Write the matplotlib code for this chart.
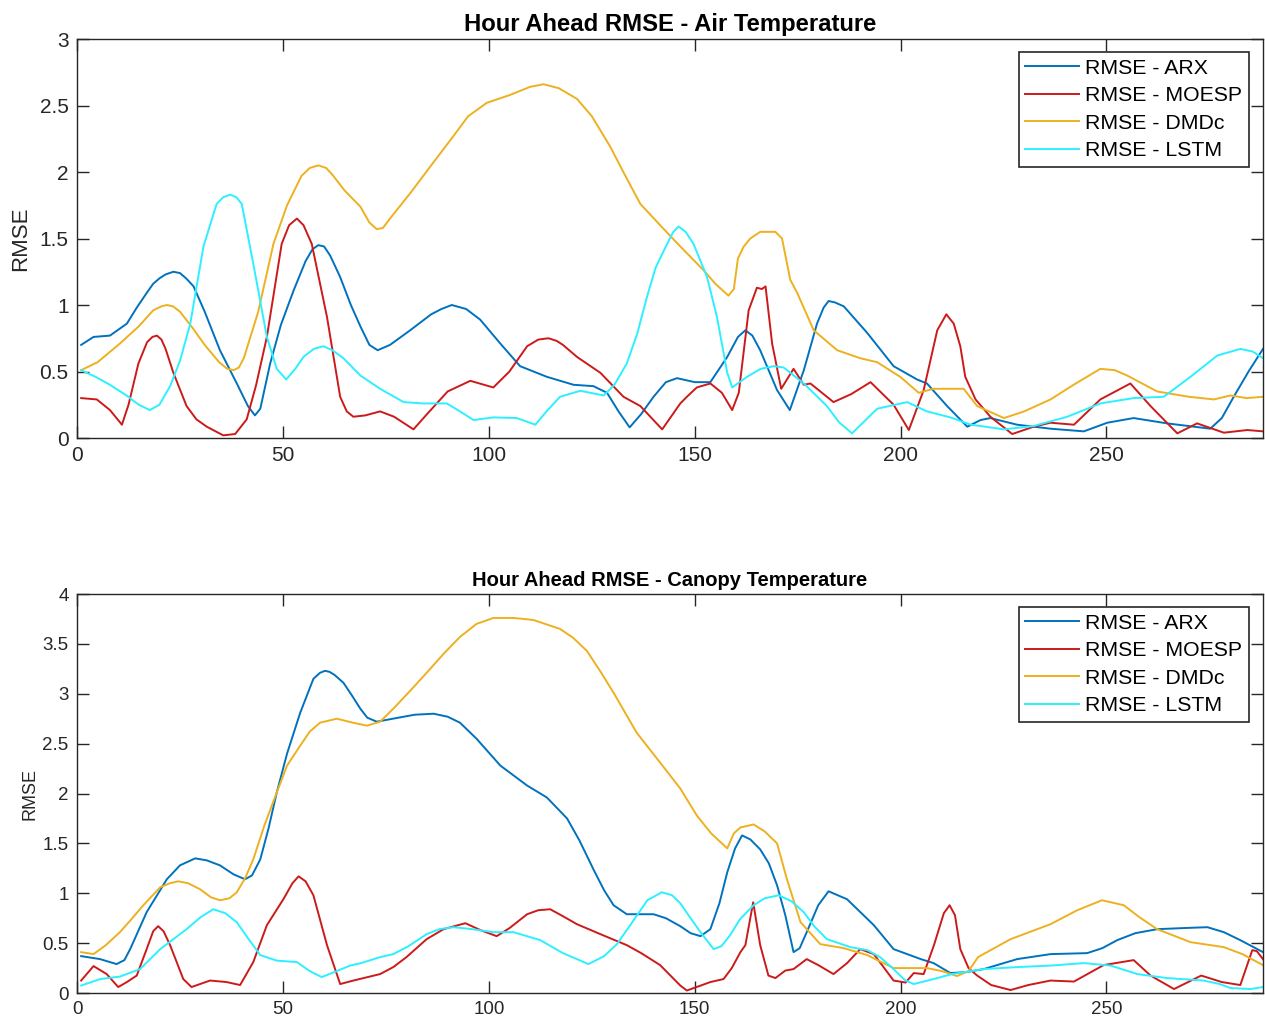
import matplotlib.pyplot as plt

plt.rcParams['font.family'] = ['Liberation Sans', 'DejaVu Sans']

labels = ["RMSE - ARX", "RMSE - MOESP", "RMSE - DMDc", "RMSE - LSTM"]
colors = ["#0072BD", "#CC1A1A", "#EDB120", "#2CF0FF"]

# ---- air temperature ----
air_arx_x = [1, 4, 8, 12.1, 14.5, 16.9, 18.5, 20, 21.5, 23.4, 25, 26.5, 28.3, 31, 34.7, 38.8, 41.5, 43.2, 44.5, 46.9,
             49.5, 52.6, 55.5, 57.2, 58.6, 60, 61.5, 63.9, 66.5, 68.8, 71, 73, 76, 80.9, 86, 88.5, 91, 94.5, 97.9,
             102.8, 107.6, 114.1, 120.6, 125.4, 128.7, 131.5, 134.2, 137, 140, 143, 145.7, 150, 153.8, 157.9, 160.5,
             162.3, 164, 165.9, 170, 173.1, 176.5, 179.7, 181.3, 182.5, 184, 186.2, 191.9, 198.3, 204, 206.4, 211.3,
             216.2, 219.4, 221.8, 228.3, 236.4, 244.5, 250.2, 256.6, 264.7, 275.2, 278, 280.9, 284.5, 288]
air_arx_y = [0.70, 0.76, 0.77, 0.86, 0.98, 1.09, 1.16, 1.20, 1.23, 1.25, 1.24, 1.20, 1.14, 0.95, 0.66, 0.41, 0.24,
             0.17, 0.22, 0.56, 0.85, 1.11, 1.33, 1.42, 1.45, 1.44, 1.37, 1.21, 1.00, 0.84, 0.70, 0.66, 0.70, 0.81, 0.93,
             0.97, 1.00, 0.97, 0.89, 0.71, 0.54, 0.46, 0.40, 0.39, 0.34, 0.20, 0.08, 0.18, 0.31, 0.42, 0.45, 0.42, 0.42,
             0.61, 0.76, 0.81, 0.77, 0.66, 0.36, 0.21, 0.51, 0.86, 0.98, 1.03, 1.02, 0.99, 0.79, 0.54, 0.44, 0.41, 0.24,
             0.085, 0.135, 0.15, 0.10, 0.07, 0.05, 0.115, 0.15, 0.11, 0.07, 0.15, 0.31, 0.50, 0.67]

air_moesp_x = [1, 4.8, 8, 10.9, 12.5, 14.9, 17, 18.3, 19.4, 20.5, 21.5, 23.4, 26.6, 29, 31.5, 35.5, 38.4, 41.2, 43.5,
               46.1, 49.7, 51.5, 53.4, 55, 57, 60.7, 63.9, 65.5, 67.1, 70, 73.6, 77, 81.7, 85, 90, 95.5, 101.1, 105,
               109.3, 112, 114.5, 116.5, 118, 121.4, 127.1, 132.7, 136.8, 142.1, 146.5, 148.1, 150.5, 153.8, 156.6,
               159.1, 160.7, 163.1, 165.1, 166.3, 167.2, 168.8, 171, 174, 176.5, 178.1, 183.7, 188, 192.7, 198.3,
               202, 205.6, 208.9, 211.1, 212.9, 214.5, 215.7, 218.2, 221.8, 227.1, 232.3, 236.4, 242.1, 248.5, 255.8,
               260.7, 267.2, 272, 278.5, 284.2, 288]
air_moesp_y = [0.30, 0.29, 0.21, 0.10, 0.25, 0.56, 0.72, 0.76, 0.77, 0.74, 0.67, 0.49, 0.24, 0.14, 0.085, 0.02, 0.03,
               0.14, 0.40, 0.76, 1.46, 1.60, 1.65, 1.60, 1.46, 0.91, 0.31, 0.20, 0.16, 0.17, 0.20, 0.16, 0.065, 0.18,
               0.35, 0.43, 0.38, 0.50, 0.69, 0.74, 0.75, 0.73, 0.70, 0.61, 0.49, 0.31, 0.24, 0.065, 0.26, 0.31, 0.38,
               0.41, 0.34, 0.21, 0.34, 0.96, 1.13, 1.12, 1.14, 0.71, 0.37, 0.52, 0.40, 0.41, 0.27, 0.33, 0.42, 0.25,
               0.06, 0.36, 0.81, 0.93, 0.86, 0.69, 0.46, 0.29, 0.16, 0.03, 0.085, 0.115, 0.10, 0.29, 0.41, 0.24, 0.035,
               0.11, 0.04, 0.06, 0.05]

air_dmdc_x = [1, 5, 10.4, 15, 18.5, 20.5, 21.8, 23.3, 25, 28, 31, 34.5, 36.5, 38, 39.3, 40.5, 44, 47.7, 51, 54.5,
              56.5, 58.6, 60.5, 62, 65, 68.8, 71, 72.8, 74.3, 76, 80.9, 86, 91.4, 95, 99.5, 105.2, 110, 113.3, 117,
              121.4, 125, 129.5, 133, 136.8, 141.6, 146.5, 152.2, 155, 158.2, 159.5, 160.5, 161.9, 163.5, 165.9,
              169.6, 171.2, 173.2, 174.9, 178.9, 184.6, 190.2, 194.3, 199.9, 204.4, 208, 215.3, 218.6, 225.1, 230,
              236.4, 242, 248.5, 252, 255, 262.3, 270, 276.1, 280.1, 284, 288]
air_dmdc_y = [0.51, 0.57, 0.71, 0.84, 0.96, 0.99, 1.00, 0.99, 0.95, 0.83, 0.70, 0.57, 0.52, 0.51, 0.53, 0.60, 0.95,
              1.46, 1.75, 1.97, 2.03, 2.05, 2.03, 1.98, 1.86, 1.74, 1.62, 1.57, 1.58, 1.65, 1.84, 2.05, 2.27, 2.42, 2.52,
              2.58, 2.64, 2.66, 2.63, 2.55, 2.42, 2.19, 1.98, 1.76, 1.60, 1.44, 1.26, 1.16, 1.07, 1.12, 1.35, 1.44, 1.50,
              1.55, 1.55, 1.50, 1.19, 1.09, 0.81, 0.66, 0.60, 0.57, 0.46, 0.34, 0.37, 0.37, 0.24, 0.15, 0.20, 0.29, 0.40,
              0.52, 0.51, 0.47, 0.35, 0.31, 0.29, 0.32, 0.30, 0.31]

air_lstm_x = [1, 4.5, 8, 12, 15, 17.7, 20, 22.6, 25, 27.5, 30.7, 33.9, 35.5, 37.2, 38.7, 40, 42.8, 46.1, 48.5, 50.8,
              53, 55, 57.5, 59.8, 62, 64.7, 68.8, 73.6, 79.3, 84, 89.8, 93, 96.3, 101.1, 106.8, 111.3, 114, 117.3,
              122.2, 127.9, 130.5, 133.5, 136, 138.4, 140.5, 143.3, 144.8, 146.1, 147.8, 149.7, 153, 155.4, 157.9,
              159.1, 162.7, 166, 169.2, 171.6, 176.5, 182.1, 185, 188.2, 191, 194.3, 201.6, 206.4, 212.1, 217, 219.4,
              225.1, 232.3, 240.5, 248.5, 256.6, 263.9, 270.4, 276.9, 282.5, 285.5, 288]
air_lstm_y = [0.51, 0.46, 0.40, 0.32, 0.25, 0.21, 0.25, 0.39, 0.58, 0.86, 1.44, 1.76, 1.81, 1.83, 1.81, 1.76, 1.31,
              0.76, 0.52, 0.44, 0.52, 0.61, 0.67, 0.69, 0.66, 0.60, 0.47, 0.37, 0.27, 0.26, 0.26, 0.20, 0.135, 0.155,
              0.15, 0.10, 0.20, 0.31, 0.355, 0.32, 0.40, 0.56, 0.78, 1.06, 1.28, 1.46, 1.55, 1.59, 1.55, 1.46, 1.21,
              0.91, 0.49, 0.38, 0.46, 0.52, 0.54, 0.53, 0.41, 0.24, 0.12, 0.035, 0.12, 0.22, 0.27, 0.20, 0.155, 0.10,
              0.09, 0.065, 0.09, 0.16, 0.26, 0.30, 0.31, 0.46, 0.62, 0.67, 0.65, 0.60]

# ---- canopy temperature ----
can_arx_x = [1, 5.6, 9.6, 11.5, 12.9, 16.9, 21.8, 25, 28.7, 31.5, 34.7, 38, 40.8, 42.5, 44.5, 46.5, 48.5, 51, 54.2,
             57.4, 59, 60.2, 61.3, 62.5, 64.7, 66.8, 68.8, 70.5, 72.8, 78, 82, 86.6, 90, 93, 97, 102.8, 109.3, 114.1,
             119, 122, 125.4, 128, 130.3, 133.5, 137, 140, 143, 146.5, 149, 151.4, 153.8, 156, 157.9, 159.8, 161.5,
             163.5, 165.9, 168, 170, 172, 174, 175.5, 177.2, 180, 182.5, 187, 193.5, 198.3, 204.9, 208, 212.1, 216,
             220.2, 228.3, 236.4, 245.3, 249, 252.6, 257, 262.3, 268, 274.5, 278.5, 282.5, 288]
can_arx_y = [0.37, 0.34, 0.29, 0.33, 0.44, 0.81, 1.14, 1.28, 1.35, 1.33, 1.28, 1.19, 1.14, 1.18, 1.34, 1.65, 2.01, 2.40,
             2.81, 3.15, 3.21, 3.23, 3.22, 3.19, 3.11, 2.98, 2.85, 2.76, 2.72, 2.76, 2.79, 2.80, 2.77, 2.71, 2.55, 2.28,
             2.08, 1.96, 1.75, 1.53, 1.24, 1.03, 0.88, 0.79, 0.79, 0.79, 0.75, 0.67, 0.60, 0.57, 0.64, 0.90, 1.21, 1.45,
             1.58, 1.54, 1.44, 1.30, 1.08, 0.78, 0.41, 0.45, 0.61, 0.88, 1.02, 0.94, 0.68, 0.44, 0.34, 0.30, 0.20, 0.21,
             0.24, 0.34, 0.39, 0.40, 0.45, 0.53, 0.60, 0.64, 0.65, 0.66, 0.61, 0.53, 0.41]

can_moesp_x = [1, 4, 7.2, 10, 12.1, 14.5, 16.9, 18.5, 19.7, 21, 22.6, 25.8, 27.8, 32.3, 36.3, 39.6, 42.8, 46.1, 50.1,
               52.3, 53.8, 55.5, 57.4, 60.7, 63.9, 67.1, 73.6, 76.8, 80, 84.9, 89, 94.3, 98, 101.9, 105, 109.3, 112,
               114.9, 118, 121.4, 127.1, 133.5, 137, 141.6, 146.5, 148.1, 153.8, 157, 159, 161.1, 162.3, 164.2, 165.9,
               167.9, 169.6, 172, 174, 177.2, 180, 183.7, 187, 190.2, 193.5, 198.3, 201.2, 203.2, 205.6, 208.1, 210.5,
               211.9, 213.2, 214.5, 216.5, 218.6, 222, 226.7, 231, 236.4, 242.1, 249.3, 256.6, 260.7, 266.4, 273,
               278, 282.5, 285.4, 286.5, 288]
can_moesp_y = [0.125, 0.27, 0.19, 0.06, 0.11, 0.175, 0.44, 0.62, 0.67, 0.62, 0.48, 0.14, 0.06, 0.125, 0.11, 0.08, 0.31,
               0.68, 0.94, 1.10, 1.17, 1.12, 0.98, 0.48, 0.09, 0.125, 0.19, 0.26, 0.36, 0.54, 0.64, 0.70, 0.63, 0.57,
               0.65, 0.79, 0.83, 0.84, 0.77, 0.69, 0.59, 0.48, 0.40, 0.28, 0.075, 0.025, 0.11, 0.14, 0.25, 0.41, 0.48,
               0.91, 0.48, 0.175, 0.15, 0.225, 0.24, 0.34, 0.28, 0.19, 0.30, 0.44, 0.39, 0.125, 0.105, 0.20, 0.19,
               0.48, 0.80, 0.88, 0.78, 0.44, 0.25, 0.175, 0.08, 0.03, 0.08, 0.125, 0.115, 0.28, 0.33, 0.175, 0.04,
               0.175, 0.11, 0.08, 0.43, 0.42, 0.34]

can_dmdc_x = [1, 4, 7, 10.4, 13, 16.1, 20.2, 22.5, 24.6, 27, 29.9, 32.5, 34.7, 37, 38.8, 40.8, 42.8, 45.5, 48.5, 51,
              54.2, 56.5, 59, 63.1, 67, 70.4, 73.6, 76.8, 80.9, 84.9, 89, 93, 97, 101.1, 106, 110.8, 117.3, 120.5,
              123.8, 127, 130.3, 135.9, 141.6, 146.5, 150.5, 154, 157.9, 159.5, 161.1, 164.3, 167, 170, 172.4, 175.7,
              180.5, 186.2, 191.9, 198.3, 206.4, 210, 213.7, 216.5, 218.8, 226.7, 236.4, 242.9, 248.9, 254.2, 258,
              262.3, 270.4, 278.5, 283, 288]
can_dmdc_y = [0.41, 0.39, 0.48, 0.61, 0.73, 0.88, 1.06, 1.10, 1.12, 1.10, 1.04, 0.96, 0.93, 0.95, 1.01, 1.15, 1.34,
              1.68, 2.01, 2.28, 2.48, 2.62, 2.71, 2.75, 2.71, 2.68, 2.72, 2.85, 3.03, 3.21, 3.40, 3.57, 3.70, 3.76, 3.76,
              3.74, 3.65, 3.56, 3.43, 3.23, 3.01, 2.61, 2.31, 2.05, 1.78, 1.60, 1.45, 1.60, 1.66, 1.69, 1.62, 1.50, 1.14,
              0.71, 0.49, 0.45, 0.38, 0.25, 0.25, 0.22, 0.17, 0.22, 0.36, 0.54, 0.69, 0.83, 0.93, 0.88, 0.76, 0.64, 0.51,
              0.46, 0.39, 0.28]

can_lstm_x = [1, 5.6, 10.4, 15.3, 20.2, 26.6, 30, 33.1, 36, 38.8, 41.5, 44.5, 48.5, 53.4, 56.5, 59.4, 62.5, 66.3, 69,
              73.6, 76.8, 80.5, 84.9, 88, 91.4, 96, 101.1, 106, 112.5, 118, 124.2, 128, 131.1, 135, 138.5, 142, 144.5,
              146.5, 149, 151.4, 154.6, 156.5, 158.6, 161, 164.3, 167, 170.4, 173.5, 176.5, 179, 182.1, 187.8, 191.9,
              195, 198.3, 201, 203.2, 208, 212.5, 220.2, 228.3, 236.4, 244.5, 251, 257.5, 264.7, 273.6, 277.5, 280.1,
              285, 288]
can_lstm_y = [0.075, 0.14, 0.165, 0.24, 0.44, 0.64, 0.76, 0.84, 0.80, 0.71, 0.55, 0.38, 0.325, 0.31, 0.22, 0.16, 0.21,
              0.275, 0.30, 0.36, 0.39, 0.47, 0.59, 0.64, 0.66, 0.64, 0.61, 0.61, 0.53, 0.40, 0.29, 0.37, 0.49, 0.72,
              0.93, 1.01, 0.98, 0.90, 0.75, 0.61, 0.44, 0.47, 0.58, 0.74, 0.88, 0.95, 0.98, 0.92, 0.81, 0.67, 0.54,
              0.46, 0.43, 0.36, 0.24, 0.13, 0.09, 0.14, 0.19, 0.24, 0.26, 0.275, 0.30, 0.275, 0.19, 0.15, 0.125, 0.09,
              0.05, 0.04, 0.06]

axis_col = "#262626"


def rmse_panel(ax, series, title, ymax, title_size, tick_size, label_size, title_pad, ylabel_pad):
    for (xs, ys), lab, col in zip(series, labels, colors):
        ax.plot(xs, ys, color=col, linewidth=1.4, label=lab)
    ax.set_xlim(0, 288)
    ax.set_ylim(0, ymax)
    ax.set_xticks(range(0, 251, 50))
    ax.set_yticks([i * 0.5 for i in range(int(ymax * 2) + 1)])
    ax.set_yticklabels([f"{v:g}" for v in ax.get_yticks()])
    ax.tick_params(direction="in", top=True, right=True, length=8.5, width=1.0,
                   colors=axis_col, labelsize=tick_size, pad=6)
    for s in ax.spines.values():
        s.set_color(axis_col)
        s.set_linewidth(1.0)
    ax.set_title(title, fontsize=title_size, fontweight="bold", pad=title_pad)
    ax.set_ylabel("RMSE", fontsize=label_size, color=axis_col, labelpad=ylabel_pad)
    leg = ax.legend(loc="upper right", bbox_to_anchor=(0.988, 0.968), fontsize=15.3, frameon=True,
                    fancybox=False, edgecolor=axis_col, framealpha=1, handlelength=2.5,
                    handletextpad=0.3, borderpad=0.32, labelspacing=0.4, borderaxespad=0)
    leg.get_frame().set_linewidth(1.2)


fig = plt.figure(figsize=(12.65, 10.21), dpi=100)
ax1 = fig.add_axes([0.0609, 0.571, 0.9375, 0.3908])
ax2 = fig.add_axes([0.0609, 0.0274, 0.9375, 0.3908])

rmse_panel(ax1, [(air_arx_x, air_arx_y), (air_moesp_x, air_moesp_y), (air_dmdc_x, air_dmdc_y),
                 (air_lstm_x, air_lstm_y)],
           "Hour Ahead RMSE - Air Temperature", 3, 17.2, 15, 16, 6, 6)
rmse_panel(ax2, [(can_arx_x, can_arx_y), (can_moesp_x, can_moesp_y), (can_dmdc_x, can_dmdc_y),
                 (can_lstm_x, can_lstm_y)],
           "Hour Ahead RMSE - Canopy Temperature", 4, 14.5, 13.5, 13, 6, 3)

fig.savefig("out.png", dpi=100)
